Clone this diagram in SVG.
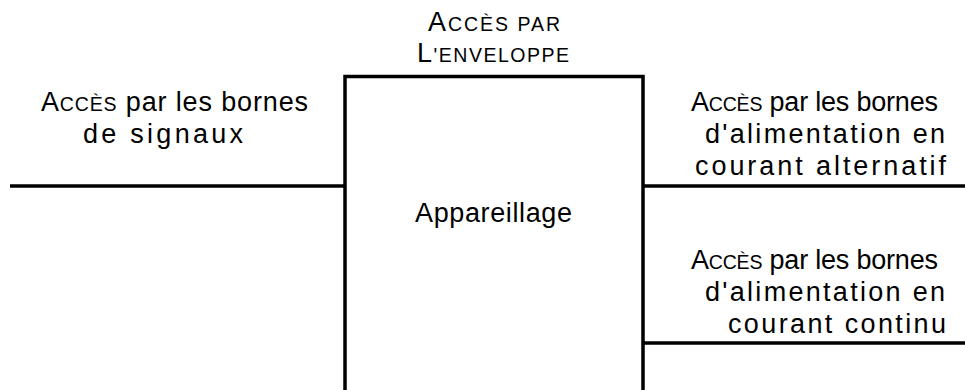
<svg xmlns="http://www.w3.org/2000/svg" width="965" height="390" viewBox="0 0 965 390">
<style>
text{font-family:"Liberation Sans",Arial,sans-serif;font-size:27px;fill:#000}
.sc{font-size:19.5px}
.ln{stroke:#000;stroke-width:3.5;fill:none}
</style>
<rect width="965" height="390" fill="#fff"/>
<g id="connectors">
<line class="ln" x1="10" y1="186" x2="345" y2="186"/>
<line class="ln" x1="643" y1="186" x2="965" y2="186"/>
<line class="ln" x1="643" y1="343" x2="965" y2="343"/>
</g>
<g id="appareillage">
<path class="ln" d="M345,400 V76.5 H643 V400"/>
<text x="415" y="222" textLength="157" lengthAdjust="spacing">Appareillage</text>
</g>
<g id="enveloppe">
<text x="428" y="31" textLength="132" lengthAdjust="spacing">A<tspan class="sc">CCÈS PAR</tspan></text>
<text x="417" y="62" textLength="152" lengthAdjust="spacing">L<tspan class="sc">'ENVELOPPE</tspan></text>
</g>
<g id="signaux">
<text x="41" y="111" textLength="267" lengthAdjust="spacing">A<tspan class="sc">CCÈS</tspan> par les bornes</text>
<text x="83" y="143" textLength="160" lengthAdjust="spacing">de signaux</text>
</g>
<g id="alternatif">
<text x="691" y="111" textLength="247" lengthAdjust="spacing">A<tspan class="sc">CCÈS</tspan> par les bornes</text>
<text x="705" y="143" textLength="240" lengthAdjust="spacing">d'alimentation en</text>
<text x="695" y="175" textLength="251" lengthAdjust="spacing">courant alternatif</text>
</g>
<g id="continu">
<text x="691" y="269" textLength="247" lengthAdjust="spacing">A<tspan class="sc">CCÈS</tspan> par les bornes</text>
<text x="705" y="301" textLength="240" lengthAdjust="spacing">d'alimentation en</text>
<text x="728" y="333" textLength="218" lengthAdjust="spacing">courant continu</text>
</g>
</svg>
